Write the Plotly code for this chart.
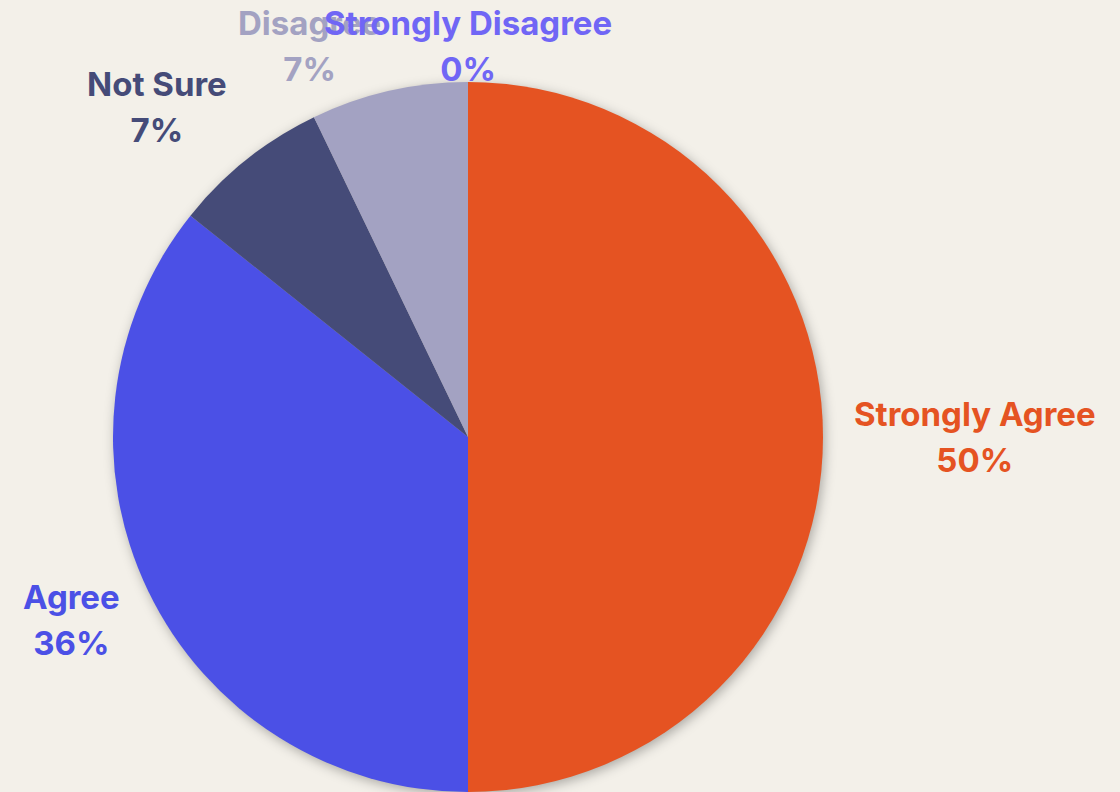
import base64
import math
import plotly.graph_objects as go

# Data
categories = ["Strongly Agree", "Agree", "Not Sure", "Disagree", "Strongly Disagree"]
counts = [7, 5, 1, 1, 0]
colors = ["#E55322", "#4B50E6", "#454B78", "#A3A2C2", "#7066F5"]

BG = "#F3F0E9"
W, H = 1120, 792
ML, MR, MT, MB = 113, 297, 82, 0
FONT = "Inter"
FSIZE = 33          # glyph size
LINE_GAP = 46       # baseline-to-baseline distance

fig = go.Figure()

fig.add_trace(go.Pie(
    labels=categories,
    values=counts,
    sort=False,
    direction="clockwise",
    rotation=0,
    marker=dict(colors=colors, line=dict(width=0)),
    textinfo="none",
    hoverinfo="label+percent",
    showlegend=False,
    domain=dict(x=[0, 1], y=[0, 1]),
))

# soft drop shadow behind the pie (SVG blurred circle)
svg = (
    '<svg xmlns="http://www.w3.org/2000/svg" width="790" height="790" viewBox="0 0 790 790">'
    '<defs><filter id="b" x="-20%" y="-20%" width="140%" height="140%">'
    '<feGaussianBlur stdDeviation="6"/></filter></defs>'
    '<circle cx="397" cy="398" r="355" fill="rgba(0,0,0,0.30)" filter="url(#b)"/></svg>'
)
src = "data:image/svg+xml;base64," + base64.b64encode(svg.encode()).decode()
pw, ph = W - ML - MR, H - MT - MB
fig.add_layout_image(dict(
    source=src, xref="paper", yref="paper",
    x=-40 / pw, y=1 + 40 / ph, sizex=790 / pw, sizey=790 / ph,
    xanchor="left", yanchor="top", sizing="stretch", layer="below",
))

# outside labels placed from the slice mid-angles
cx, cy = ML + pw / 2, MT + ph / 2
r = min(pw, ph) / 2
offset = 29
box_h = 76
total = sum(counts)
acc = 0
for name, val, col in zip(categories, counts, colors):
    mid = (acc + val / 2) / total * 2 * math.pi
    acc += val
    vx, vy = math.sin(mid), -math.cos(mid)
    ax, ay = cx + vx * (r + offset), cy + vy * (r + offset)
    if abs(vx) < 1e-6:
        xanchor = "center"
    elif vx < 0:
        xanchor = "right"
    else:
        xanchor = "left"
    ccy = ay + vy * box_h / 2
    ccy = max(ccy, 8 + box_h / 2)
    pct = f"{round(100 * val / total)}%"
    span = f'<span style="font-size:{FSIZE}px"><b>%s</b></span>'
    fig.add_annotation(
        x=(ax - ML) / pw, y=(H - MB - ccy) / ph, xref="paper", yref="paper",
        text=(span % name) + "<br>" + (span % pct), showarrow=False,
        xanchor=xanchor, yanchor="middle", align="center",
        font=dict(family=FONT, size=LINE_GAP / 1.3, color=col, weight=800),
    )

fig.update_layout(
    width=W, height=H,
    margin=dict(l=ML, r=MR, t=MT, b=MB),
    paper_bgcolor=BG, plot_bgcolor=BG,
    font=dict(family=FONT),
)

fig.write_html("out.html")
